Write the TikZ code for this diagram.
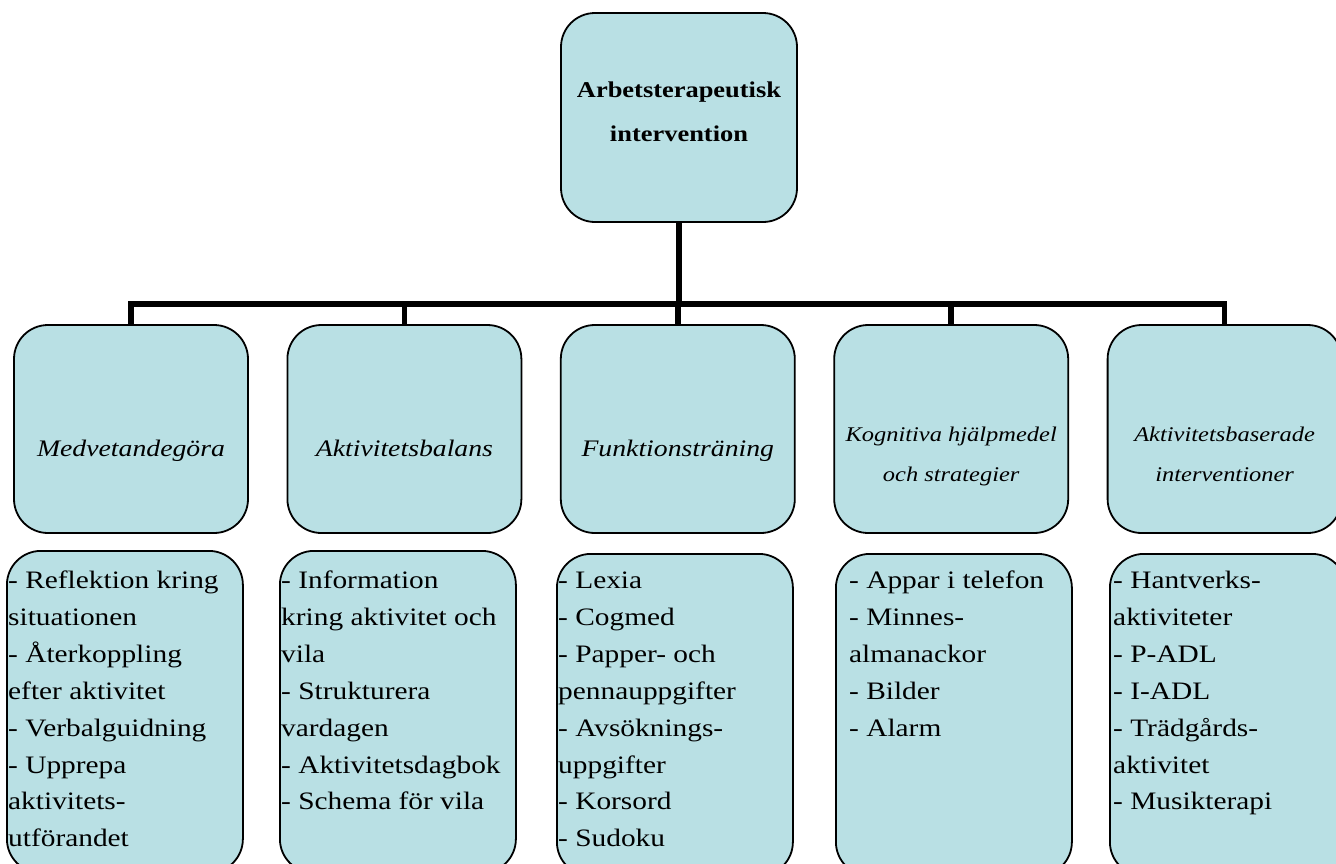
\documentclass[tikz,border=0pt]{standalone}
\usepackage{fontspec}
\setmainfont{Liberation Serif}[FakeStretch=1.17]
\usetikzlibrary{calc}
\definecolor{boxblue}{RGB}{185,224,228}
\begin{document}
\begin{tikzpicture}[x=1pt,y=-1pt,
  box/.style={draw=black, line width=1.8pt, fill=boxblue, rounded corners=34pt, inner sep=0pt},
  midbox/.style={box, minimum width=234pt, minimum height=208pt},
  lowbox/.style={box, anchor=north west, minimum width=236pt, minimum height=322pt},
  conn/.style={line width=5.5pt},
  lowtxt/.style={anchor=base west, inner sep=0pt, font=\fontsize{25.1}{36.9}\selectfont},
  midtxt/.style={anchor=base, inner sep=0pt, font=\fontsize{23.7}{40}\selectfont\itshape},
  midtxtsmall/.style={anchor=base, inner sep=0pt, font=\fontsize{20.9}{40}\selectfont\itshape},
  toptxt/.style={anchor=base, inner sep=0pt, font=\fontsize{22.6}{44}\selectfont\bfseries}]
\clip (0,0) rectangle (1336,863);
\fill[white] (0,0) rectangle (1336,863);

% top box
\node[box, minimum width=236pt, minimum height=209pt] (top) at (679,117.5) {};
\node[toptxt] (toptext) at ($(top.north)+(0,85)$) {\parbox[t]{230pt}{\centering Arbetsterapeutisk\\intervention}};

% middle boxes
\node[midbox] (m1) at (131,429) {};
\node[midbox] (m2) at (404.4,429) {};
\node[midbox] (m3) at (677.8,429) {};
\node[midbox] (m4) at (951.2,429) {};
\node[midbox] (m5) at (1224.6,429) {};

\node[midtxt] (t1) at ($(m1.north)+(0,132)$) {Medvetandegöra};
\node[midtxt] (t2) at ($(m2.north)+(0,132)$) {Aktivitetsbalans};
\node[midtxt] (t3) at ($(m3.north)+(0,132)$) {Funktionsträning};
\node[midtxtsmall] (t4) at ($(m4.north)+(0,117)$) {\parbox[t]{230pt}{\centering Kognitiva hjälpmedel\\och strategier}};
\node[midtxtsmall] (t5) at ($(m5.north)+(0,117)$) {\parbox[t]{230pt}{\centering Aktivitetsbaserade\\interventioner}};

% connectors
\coordinate (bus) at (0,304);
\draw[conn] (top.south) -- (top.south |- bus);
\draw[conn, line cap=rect] (m1.north |- bus) -- (m5.north |- bus);
\foreach \m in {m1,m2,m3,m4,m5} {\draw[conn] (\m.north) -- (\m.north |- bus);}

% lower boxes
\node[lowbox] (l1) at (6,550) {};
\node[lowbox] (l2) at (279,550) {};
\node[lowbox] (l3) at (556,553) {};
\node[lowbox] (l4) at (835,553) {};
\node[lowbox] (l5) at (1109,553) {};

\node[lowtxt] (x1) at (8,588.5) {\parbox[t]{300pt}{\raggedright - Reflektion kring\\situationen\\- Återkoppling\\efter aktivitet\\- Verbalguidning\\- Upprepa\\aktivitets-\\utförandet}};
\node[lowtxt] (x2) at (281,588.5) {\parbox[t]{300pt}{\raggedright - Information\\kring aktivitet och\\vila\\- Strukturera\\vardagen\\- Aktivitetsdagbok\\- Schema för vila}};
\node[lowtxt] (x3) at (558,588.5) {\parbox[t]{300pt}{\raggedright - Lexia\\- Cogmed\\- Papper- och\\pennauppgifter\\- Avsöknings-\\uppgifter\\- Korsord\\- Sudoku}};
\node[lowtxt] (x4) at (849,588.5) {\parbox[t]{300pt}{\raggedright - Appar i telefon\\- Minnes-\\almanackor\\- Bilder\\- Alarm}};
\node[lowtxt] (x5) at (1113,588.5) {\parbox[t]{300pt}{\raggedright - Hantverks-\\aktiviteter\\- P-ADL\\- I-ADL\\- Trädgårds-\\aktivitet\\- Musikterapi}};
\end{tikzpicture}
\end{document}
